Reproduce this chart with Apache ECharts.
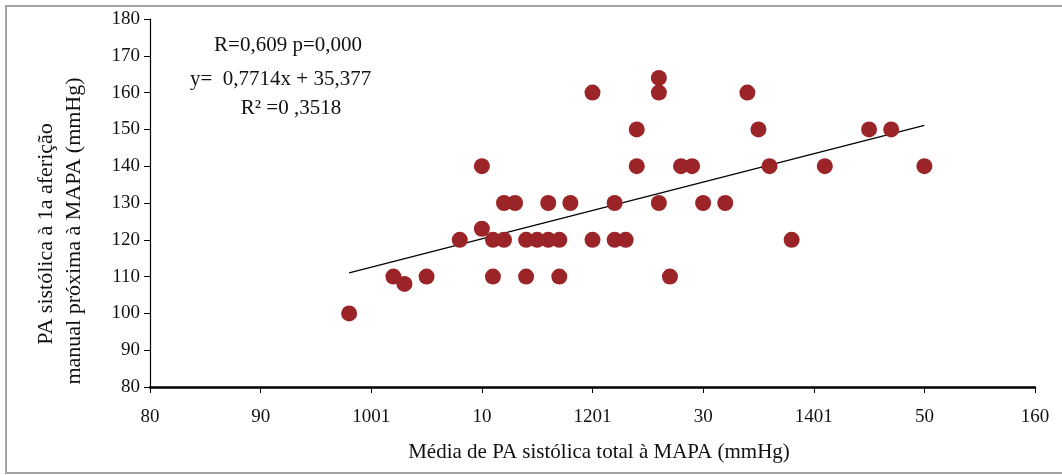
<!DOCTYPE html>
<html>
<head>
<meta charset="utf-8">
<script src="https://cdn.jsdelivr.net/npm/echarts@6/dist/echarts.min.js"></script>
<style>html,body{margin:0;padding:0;background:#fff}#c{width:1062px;height:475px}</style>
</head>
<body>
<div id="c"></div>
<script>
// Data
const xValues = [98,102,103,105,108,110,110,111,111,112,112,113,114,114,115,116,116,117,117,118,120,120,122,122,123,124,124,126,126,126,127,128,129,130,132,134,135,136,138,141,145,147,150];
const yValues = [100,110,108,110,120,140,123,120,110,130,120,130,120,110,120,130,120,120,110,130,160,120,130,120,120,150,140,164,160,130,110,140,140,130,130,160,150,140,120,140,150,150,140];
const trendX = [98,150];
const trendY = [111.0,151.1];
const xTickLabels = ['80','90','1001','10','1201','30','1401','50','160'];
const yTickLabels = ['80','90','100','110','120','130','140','150','160','170','180'];
const xTitle = 'Média de PA sistólica total à MAPA (mmHg)';
const yTitleLines = ['PA sistólica à 1a aferição','manual próxima à MAPA (mmHg)'];
const annot = ['R=0,609 p=0,000','y=  0,7714x + 35,377','R² =0 ,3518'];

const points = xValues.map((x,i)=>[x,yValues[i]]);
const FONT = 'Liberation Serif';
const chart = echarts.init(document.getElementById('c'), null, {renderer:'canvas'});
chart.setOption({
  animation:false,
  backgroundColor:'#fff',
  textStyle:{fontFamily:FONT},
  grid:{left:150,right:27,top:19,bottom:88,containLabel:false},
  xAxis:{
    type:'value',min:80,max:160,interval:10,
    axisLine:{show:true,onZero:false,lineStyle:{color:'#000',width:2.5}},
    axisTick:{show:true,length:6,inside:false,lineStyle:{color:'#000',width:1}},
    splitLine:{show:false},
    axisLabel:{color:'#111',fontSize:19,fontFamily:FONT,margin:21,
      formatter:(v)=>xTickLabels[Math.round((v-80)/10)]}
  },
  yAxis:{
    type:'value',min:80,max:180,interval:10,
    axisLine:{show:true,onZero:false,lineStyle:{color:'#000',width:1.2}},
    axisTick:{show:true,length:6,inside:false,lineStyle:{color:'#000',width:1}},
    splitLine:{show:false},
    axisLabel:{color:'#111',fontSize:19,fontFamily:FONT,margin:10,
      formatter:(v)=>yTickLabels[Math.round((v-80)/10)]}
  },
  series:[
    {type:'line',data:trendX.map((x,i)=>[x,trendY[i]]),symbol:'none',
     lineStyle:{color:'#000',width:1.2},z:1,silent:true},
    {type:'scatter',data:points,symbol:'circle',symbolSize:16,
     itemStyle:{color:'#9b2428',opacity:1},z:2}
  ],
  graphic:[
    {type:'rect',x:0,y:0,shape:{x:6,y:6,width:1070,height:467},
     style:{fill:'none',stroke:'#a3a3a3',lineWidth:2},silent:true},
    {type:'text',x:599,y:452,style:{text:xTitle,font:'21px "Liberation Serif"',fill:'#111',align:'center',verticalAlign:'middle'}},
    {type:'text',x:46,y:234,rotation:Math.PI/2,style:{text:yTitleLines[0],font:'22px "Liberation Serif"',fill:'#111',align:'center',verticalAlign:'middle'}},
    {type:'text',x:74,y:231,rotation:Math.PI/2,style:{text:yTitleLines[1],font:'22px "Liberation Serif"',fill:'#111',align:'center',verticalAlign:'middle'}},
    {type:'text',x:288,y:45,style:{text:annot[0],font:'21px "Liberation Serif"',fill:'#111',align:'center',verticalAlign:'middle'}},
    {type:'text',x:190,y:79,style:{text:annot[1],font:'21px "Liberation Serif"',fill:'#111',align:'left',verticalAlign:'middle'}},
    {type:'text',x:291,y:108,style:{text:annot[2],font:'21px "Liberation Serif"',fill:'#111',align:'center',verticalAlign:'middle'}}
  ]
});
</script>
</body>
</html>
